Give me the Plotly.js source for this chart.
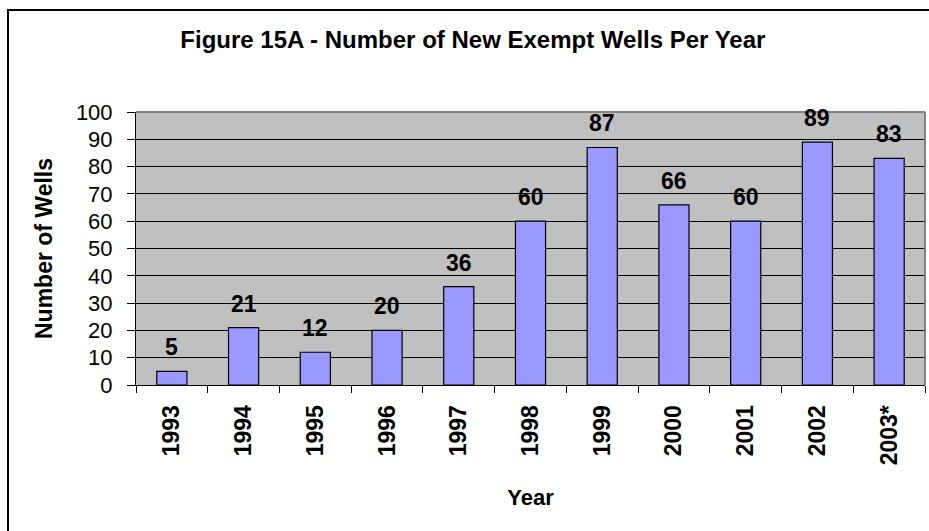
<!DOCTYPE html>
<html>
<head>
<meta charset="utf-8">
<script src="https://cdn.plot.ly/plotly-3.0.1.min.js"></script>
<style>
  html, body { margin: 0; padding: 0; background: #ffffff; }
  #chart { width: 929px; height: 531px; position: absolute; left: 0; top: 0; }
  #frame { position: absolute; left: 7px; top: 9px; width: 940px; height: 540px;
           border-left: 2px solid #000; border-top: 2px solid #000; pointer-events: none; }
</style>
</head>
<body>
<div id="chart"></div>
<div id="frame"></div>
<script>
const years = ["1993", "1994", "1995", "1996", "1997", "1998", "1999", "2000", "2001", "2002", "2003*"];
const wells = [5, 21, 12, 20, 36, 60, 87, 66, 60, 89, 83];
const yTicks = [0, 10, 20, 30, 40, 50, 60, 70, 80, 90, 100];

const FONT = "Liberation Sans, Arial, sans-serif";

const trace = {
  type: "bar",
  x: years,
  y: wells,
  marker: { color: "#9999FF", line: { color: "#000000", width: 1.2 } },
  hoverinfo: "skip"
};

// labels above bars; x given as category index so numeric-looking names are not misread
const annotations = wells.map((v, i) => ({
  x: i, y: v, xref: "x", yref: "y",
  text: String(v), showarrow: false,
  yanchor: "bottom", yshift: 9,
  font: { family: FONT, size: 23, color: "#000", weight: "bold" }
}));

const layout = {
  width: 929, height: 531,
  margin: { l: 136, r: 4, t: 112, b: 146 },
  paper_bgcolor: "#ffffff",
  plot_bgcolor: "#C0C0C0",
  bargap: 0.58,
  showlegend: false,
  title: {
    text: "Figure 15A - Number of New Exempt Wells Per Year",
    font: { family: FONT, size: 24, color: "#000", weight: "bold" },
    x: 0.509, xanchor: "center", y: 0.925, yanchor: "middle"
  },
  xaxis: {
    type: "category",
    categoryarray: years, categoryorder: "array",
    range: [-0.5, years.length - 0.5],
    tickangle: -90,
    tickson: "boundaries",
    ticks: "outside", ticklen: 7, tickcolor: "#000", tickwidth: 1,
    showline: true, linecolor: "#000", linewidth: 1,
    showgrid: false,
    tickfont: { family: FONT, size: 23, color: "#000", weight: "bold" },
    ticklabelstandoff: 10,
    title: { text: "Year", font: { family: FONT, size: 22, color: "#000", weight: "bold" }, standoff: 25 }
  },
  yaxis: {
    range: [0, 100],
    tickvals: yTicks,
    ticks: "outside", ticklen: 8, tickcolor: "#000", tickwidth: 1,
    showline: true, linecolor: "#000", linewidth: 1,
    showgrid: true, gridcolor: "#000", gridwidth: 1,
    zeroline: false,
    tickfont: { family: FONT, size: 22, color: "#000" },
    ticklabelstandoff: 10,
    title: { text: "Number of Wells", font: { family: FONT, size: 23, color: "#000", weight: "bold" }, standoff: 16 }
  },
  shapes: [
    { type: "line", xref: "paper", yref: "paper", x0: 0, x1: 1, y0: 1, y1: 1, line: { color: "#808080", width: 2 } },
    { type: "line", xref: "paper", yref: "paper", x0: 1, x1: 1, y0: 0, y1: 1, line: { color: "#808080", width: 2 } }
  ],
  annotations: annotations
};

Plotly.newPlot("chart", [trace], layout, { staticPlot: true, displayModeBar: false });
</script>
</body>
</html>
